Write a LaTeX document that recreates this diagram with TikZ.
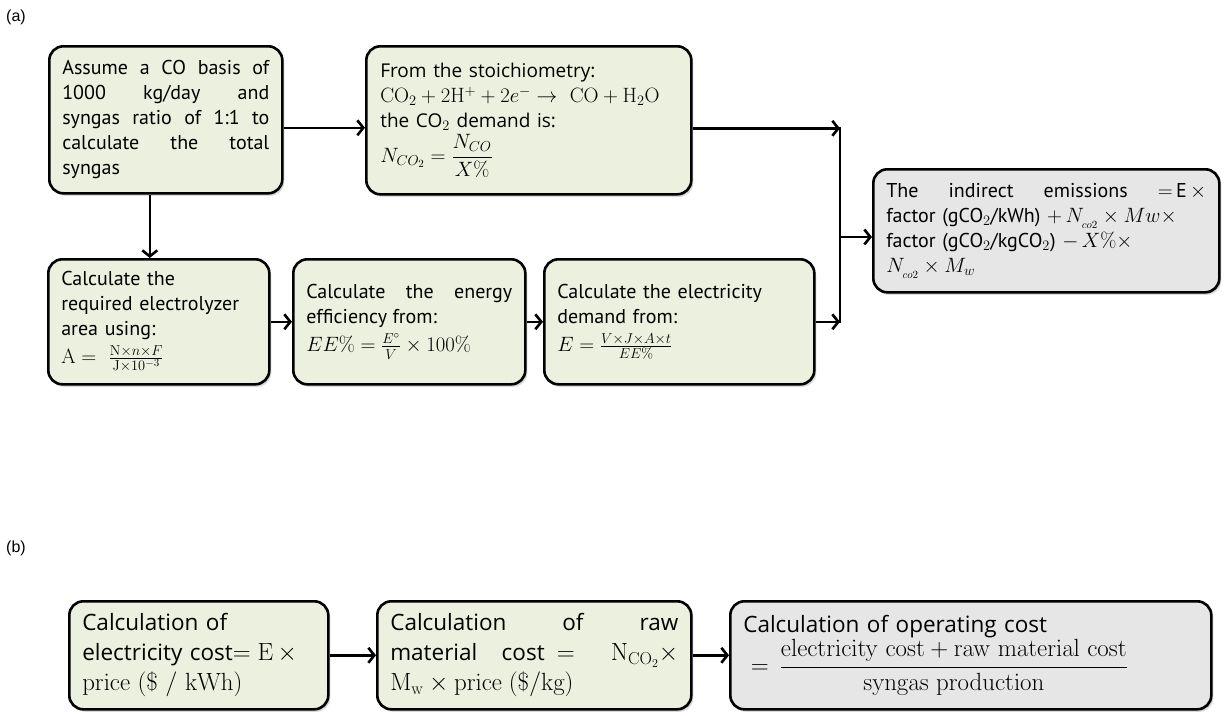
\documentclass[tikz,border=0pt]{standalone}
\usepackage{amsmath}
\usepackage[no-math]{fontspec}
\setmainfont{PT Sans}
\newfontfamily\segoe{Open Sans}
\newfontfamily\arial{Liberation Sans}
\usetikzlibrary{arrows.meta,shadows,calc}
\definecolor{boxgreen}{HTML}{EBF1DE}
\definecolor{boxgray}{HTML}{E6E6E6}
\newcommand\mth[1]{{\fontsize{22.5}{25}\selectfont$#1$}}
\newcommand\mthb[1]{{\fontsize{26}{30}\selectfont$#1$}}
\tikzset{
  box/.style={draw=black, line width=2.6pt, rounded corners=14pt, fill=boxgreen,
    anchor=north west, inner xsep=13pt, inner ysep=3pt,
    font=\fontsize{20}{25}\selectfont,
    drop shadow={shadow xshift=2pt, shadow yshift=-2.5pt, opacity=0.3}},
  graybox/.style={box, fill=boxgray},
  segbox/.style={font=\segoe\fontsize{22.5}{30}\selectfont},
  arr/.style={line width=2.6pt, -{Straight Barb[length=6pt,width=15pt]}},
  conn/.style={line width=2.6pt},
  tag/.style={font=\arial\fontsize{16}{18}\selectfont, anchor=west, inner sep=0pt}
}
\begin{document}
\begin{tikzpicture}[x=1pt,y=-1pt]
\useasboundingbox (0,0) rectangle (1228,715);

\node[tag] (ta) at (6,17) {(a)};
\node[tag] (tb) at (6,548) {(b)};

% --- part (a) ---
\node[box, minimum width=233pt, minimum height=147pt, text width=207pt, align=justify] (b1) at (48,45)
 {Assume a CO basis of\linebreak 1000 kg/day and\linebreak syngas ratio of 1:1 to\linebreak calculate the total\linebreak syngas};

\node[box, minimum width=325pt, minimum height=148pt, text width=297pt, align=left] (b2) at (365,45)
 {{\segoe\fontsize{19}{25}\selectfont From the stoichiometry:}\\
  \mth{\mathrm{CO_2 + 2H^+ + 2}e^- \rightarrow\ \mathrm{CO + H_2O}}\\
  {\segoe\fontsize{19}{25}\selectfont the CO$_2$ demand is:}\\[2pt]
  \mth{N_{CO_2} = \dfrac{N_{CO}}{X\%}}};

\node[graybox, minimum width=346pt, minimum height=123pt, text width=320pt, align=left] (b3) at (872,168)
 {The\hfill indirect\hfill emissions\hfill \mth{=}\,E\,\mth{\times}\\
  factor (gCO$_2$/kWh) \mth{+\,N_{_{co2}} \times Mw \times}\\
  factor (gCO$_2$/kgCO$_2$) \mth{-\,X\% \times}\\
  \mth{N_{_{co2}} \times M_w}};

\node[box, minimum width=221pt, minimum height=125pt, text width=195pt, align=left] (b4) at (47,258)
 {Calculate the\\ required electrolyzer\\ area using:\\[3pt]
  \mth{\mathrm{A} =\ \frac{\mathrm{N}\times n\times F}{\mathrm{J}\times 10^{-3}}}};

\node[box, minimum width=232pt, minimum height=125pt, text width=206pt, align=justify] (b5) at (292,258)
 {Calculate the energy\linebreak efficiency from:\\[3pt]
  \mth{EE\% = \frac{E^{\circ}}{V} \times 100\%}};

\node[box, minimum width=270pt, minimum height=125pt, text width=244pt, align=left] (b6) at (543,258)
 {Calculate the electricity\\ demand from:\\[3pt]
  \mth{E = \frac{V\times J\times A\times t}{EE\%}}};

% connectors (a)
\coordinate (jx) at (840,0);
\draw[arr] ([yshift=-8pt]b1.east) -- ([yshift=-8pt]b1.east -| b2.west);
\draw[arr] ([xshift=-16pt]b1.south) -- ([xshift=-16pt]b1.south |- b4.north);
\draw[arr] (b4.east) -- (b5.west);
\draw[arr] (b5.east) -- (b6.west);

\coordinate (jt) at ([yshift=-8pt]b2.east -| jx);
\coordinate (jb) at (b6.east -| jx);
\coordinate (jm) at (840,237);
\draw[arr] ([yshift=-8pt]b2.east) -- (jt);
\draw[arr] (b6.east) -- (jb);
\draw[conn] ([yshift=1.3pt]jt) -- ([yshift=-1.3pt]jb);
\draw[arr] (jm) -- (jm -| b3.west);

% --- part (b) ---
\node[box, segbox, minimum width=259pt, minimum height=108pt, text width=233pt, align=left] (b7) at (68,600)
 {Calculation of\\ electricity cost\mthb{=\mathrm{E}\,\times}\\ \mthb{\mathrm{price\ (\$\ /\ kWh)}}};

\node[box, segbox, minimum width=314pt, minimum height=108pt, text width=288pt, align=justify] (b8) at (376,600)
 {Calculation of raw\linebreak material\ \ cost \mthb{=\ \mathrm{N_{CO_2}}\times}\linebreak \mthb{\mathrm{M_w}\times\mathrm{price\ (\$/kg)}}};

\node[graybox, segbox, inner ysep=0pt, minimum width=481pt, minimum height=108pt, text width=455pt, align=left] (b9) at (729,600)
 {Calculation of operating cost\\[1pt]
  {\fontsize{26}{26}\selectfont$\displaystyle \ =\,\frac{\mathrm{electricity\ cost + raw\ material\ cost}}{\mathrm{syngas\ production}}$}};

\draw[arr] (b7.east) -- (b8.west);
\draw[arr] (b8.east) -- (b9.west);
\end{tikzpicture}
\end{document}
